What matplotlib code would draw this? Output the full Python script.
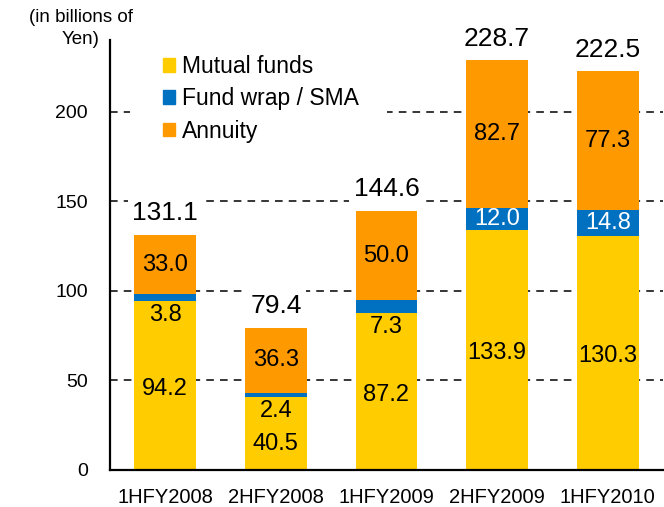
import matplotlib
matplotlib.use("Agg")
import matplotlib.pyplot as plt
from matplotlib.patches import Patch, Rectangle

plt.rcParams['font.family'] = ['Liberation Sans', 'DejaVu Sans']

periods = ["1HFY2008", "2HFY2008", "1HFY2009", "2HFY2009", "1HFY2010"]
mutual_funds = [94.2, 40.5, 87.2, 133.9, 130.3]
fund_wrap = [3.8, 2.4, 7.3, 12.0, 14.8]
annuity = [33.0, 36.3, 50.0, 82.7, 77.3]
totals = [131.1, 79.4, 144.6, 228.7, 222.5]

YELLOW = "#FFCC00"
BLUE = "#0070C0"
ORANGE = "#FF9900"

# where the mutual fund number sits when the default (middle) is taken
mf_label_y = [None, 14, None, None, None]

fig = plt.figure(figsize=(6.64, 5.07), dpi=100)
ax = fig.add_axes([110 / 664, 1 - 469.5 / 507, 553 / 664, (469.5 - 40) / 507])

x = list(range(len(periods)))
width = 0.56
bottom2 = [m + f for m, f in zip(mutual_funds, fund_wrap)]
ax.bar(x, mutual_funds, width, color=YELLOW, zorder=2)
ax.bar(x, fund_wrap, width, bottom=mutual_funds, color=BLUE, zorder=2)
ax.bar(x, annuity, width, bottom=bottom2, color=ORANGE, zorder=2)

for i in x:
    m, f, a = mutual_funds[i], fund_wrap[i], annuity[i]
    y_m = mf_label_y[i] if mf_label_y[i] is not None else m / 2 - 2
    ax.text(i, y_m, f"{m:.1f}", ha="center", va="center", fontsize=17, zorder=4)
    if f >= 10:
        ax.text(i, m + f / 2, f"{f:.1f}", ha="center", va="center",
                fontsize=17, color="white", zorder=4)
    else:
        ax.annotate(f"{f:.1f}", (i, m), xytext=(0, -2), textcoords="offset points",
                    ha="center", va="top", fontsize=17, zorder=4)
    ax.text(i, m + f + a / 2, f"{a:.1f}", ha="center", va="center", fontsize=17, zorder=4)
    ax.annotate(f"{totals[i]:.1f}", (i, m + f + a), xytext=(0, 7), textcoords="offset points",
                ha="center", va="bottom", fontsize=19, zorder=4,
                bbox=dict(facecolor="white", edgecolor="none", pad=3))

ax.set_xlim(-0.5, 4.5)
ax.set_ylim(0, 240)
ax.set_yticks([0, 50, 100, 150, 200])
ax.set_xticks(x)
ax.set_xticklabels(periods)
ax.tick_params(axis="y", length=0, pad=16, labelsize=14)
ax.tick_params(axis="x", length=0, pad=13, labelsize=14.5)
ax.yaxis.grid(True, linestyle=(0, (5, 4)), color="black", linewidth=1.1)
ax.set_axisbelow(True)
for side in ["top", "right"]:
    ax.spines[side].set_visible(False)
for side in ["left", "bottom"]:
    ax.spines[side].set_linewidth(1.6)

fig.text(81 / 664, 1 - 9 / 507, "(in billions of\nYen)", ha="center", va="top",
         fontsize=13.5, linespacing=1.35)

# white box behind the legend hides the gridline, as in the original slide
ax.add_patch(Rectangle((0.036, 0.75), 0.465, 0.235, transform=ax.transAxes,
                       facecolor="white", edgecolor="none", zorder=1))

handles = [Patch(color=YELLOW, label="Mutual funds"),
           Patch(color=BLUE, label="Fund wrap / SMA"),
           Patch(color=ORANGE, label="Annuity")]
ax.legend(handles=handles, loc="upper left", bbox_to_anchor=(0.079, 0.986),
          frameon=False, fontsize=16.5, handlelength=0.55, handleheight=0.55,
          handletextpad=0.3, labelspacing=0.40, borderaxespad=0)

fig.savefig("out.png", dpi=100)
